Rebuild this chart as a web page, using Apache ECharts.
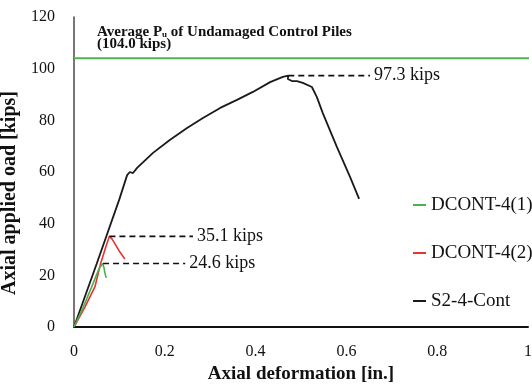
<!DOCTYPE html>
<html>
<head>
<meta charset="utf-8">
<script src="https://cdn.jsdelivr.net/npm/echarts@6/dist/echarts.min.js"></script>
<style>
html,body{margin:0;padding:0;background:#fff;}
#c{width:532px;height:388px;}
</style>
</head>
<body>
<div id="c"></div>
<script>
// ---- data ----
const xTicks = [0, 0.2, 0.4, 0.6, 0.8, 1];
const yTicks = [0, 20, 40, 60, 80, 100, 120];
const seriesNames = ['DCONT-4(1)', 'DCONT-4(2)', 'S2-4-Cont'];
const dcont41 = [[0,0],[0.02,7.5],[0.04,16],[0.055,22.5],[0.063,24.6],[0.066,23],[0.068,21],[0.071,19]];
const dcont42 = [[0,0],[0.024,7.7],[0.046,15.5],[0.059,24.8],[0.07,31],[0.078,35.1],[0.084,34],[0.09,32.3],[0.101,29],[0.112,26.3]];
const s24cont = [[0,0],[0.05,24.5],[0.1,49.5],[0.117,58.8],[0.123,60],[0.13,59.6],[0.139,61.6],[0.174,67.4],[0.211,72.4],[0.249,77],[0.284,80.9],[0.322,84.8],[0.359,87.9],[0.394,91],[0.432,94.8],[0.46,96.8],[0.472,97.3],[0.471,96],[0.48,95.2],[0.491,95.2],[0.504,94.5],[0.524,92.9],[0.535,89],[0.548,82.8],[0.579,69.7],[0.608,58.1],[0.628,49.6]];
const avgPu = 104.0;
const avgX = [0, 1.01];
const annoY = [97.3, 35.1, 24.6];
const annoX0 = [0.472, 0.078, 0.064];
const annoX1 = [0.652, 0.262, 0.245];
const annoText = ['97.3 kips', '35.1 kips', '24.6 kips'];

const serif = "'Liberation Serif','Times New Roman',serif";
const chart = echarts.init(document.getElementById('c'), null, {renderer: 'canvas'});

const annoSeries = annoY.map((y, i) => ({
  type: 'line', name: 'anno' + i, z: 5,
  data: [[annoX0[i], y], [annoX1[i], y]],
  symbol: 'none', silent: true,
  lineStyle: {color: '#111', width: 1.6, type: [6, 4]},
  label: {show: false},
  endLabel: {show: true, formatter: annoText[i], color: '#111', fontFamily: serif, fontSize: 18, distance: 4},
  animation: false
}));

chart.setOption({
  animation: false,
  backgroundColor: '#fff',
  grid: {left: 74, right: 4, top: 17, bottom: 61, containLabel: false, outerBoundsMode: 'none'},
  xAxis: {
    type: 'value', min: xTicks[0], max: xTicks[xTicks.length - 1], interval: 0.2,
    name: 'Axial deformation [in.]', nameLocation: 'middle', nameGap: 38,
    nameTextStyle: {fontFamily: serif, fontSize: 19, fontWeight: 'bold', color: '#111'},
    axisLine: {lineStyle: {color: '#111', width: 2}},
    axisTick: {show: false},
    splitLine: {show: false},
    axisLabel: {fontFamily: serif, fontSize: 16, color: '#111', margin: 17}
  },
  yAxis: {
    type: 'value', min: yTicks[0], max: yTicks[yTicks.length - 1], interval: 20,
    name: 'Axial applied oad [kips]', nameLocation: 'middle', nameGap: 42,
    nameTextStyle: {fontFamily: serif, fontSize: 20, fontWeight: 'bold', color: '#111', padding: [0, 42, 0, 0]},
    axisLine: {lineStyle: {color: '#5a5252', width: 1.6}},
    axisTick: {show: false},
    splitLine: {show: false},
    axisLabel: {fontFamily: serif, fontSize: 16, color: '#111', margin: 19}
  },
  legend: {
    data: seriesNames, orient: 'vertical', left: 408, top: 190, itemGap: 28,
    icon: 'rect', itemWidth: 13, itemHeight: 2,
    textStyle: {fontFamily: serif, fontSize: 19, color: '#111', lineHeight: 20}
  },
  graphic: [{
    type: 'text', left: 97, top: 25,
    style: {
      text: '{b|Average P}{s|u}{b| of Undamaged Control Piles}',
      rich: {
        b: {fontFamily: serif, fontSize: 15, fontWeight: 'bold', fill: '#111', lineHeight: 15, verticalAlign: 'top'},
        s: {fontFamily: serif, fontSize: 9, fontWeight: 'bold', fill: '#111', lineHeight: 10, verticalAlign: 'top', padding: [5, 0, 0, 0]}
      }
    }
  }, {
    type: 'text', left: 97, top: 37,
    style: {
      text: '(104.0 kips)',
      font: "bold 15px 'Liberation Serif','Times New Roman',serif",
      fill: '#111'
    }
  }],
  series: [
    {type: 'line', name: 'avg', data: avgX.map(x => [x, avgPu]), symbol: 'none', clip: false, z: 1,
     lineStyle: {color: '#52b152', width: 2}},
    {type: 'line', name: seriesNames[2], data: s24cont, symbol: 'none', z: 2,
     color: '#1a1a1a', lineStyle: {color: '#1a1a1a', width: 1.8}},
    {type: 'line', name: seriesNames[1], data: dcont42, symbol: 'none', z: 3,
     color: '#e8332e', lineStyle: {color: '#e8332e', width: 1.6}},
    {type: 'line', name: seriesNames[0], data: dcont41, symbol: 'none', z: 4,
     color: '#4cb050', lineStyle: {color: '#4cb050', width: 1.6}},
    ...annoSeries
  ]
});
</script>
</body>
</html>
